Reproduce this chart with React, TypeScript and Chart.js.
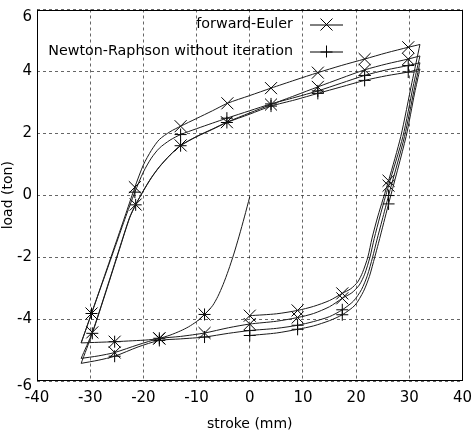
import React, { useEffect, useRef } from 'react';
import { Chart, registerables } from 'chart.js';

Chart.register(...registerables);

// ---------- text ----------
const X_TITLE = 'stroke (mm)';
const Y_TITLE = 'load (ton)';
const LEGEND_LABELS = ['forward-Euler', 'Newton-Raphson without iteration'];

// ---------- axes ----------
const X_MIN = -40;
const X_MAX = 40;
const X_STEP = 10;
const Y_MIN = -6;
const Y_MAX = 6;
const Y_STEP = 2;

// ---------- curves: [stroke, load] ----------
const INITIAL = [
  [0, -0.05], [-1, -0.7], [-2, -1.32], [-3, -1.9], [-4, -2.42], [-5, -2.88], [-6, -3.27],
  [-7, -3.57], [-8.5, -3.85], [-10, -4.08], [-11.5, -4.25], [-13, -4.38], [-15, -4.52],
  [-17, -4.62], [-19, -4.67], [-22, -4.7], [-25.4, -4.73], [-28.5, -4.75], [-31.7, -4.77],
];

const UP_1 = [
  [-31.7, -4.77], [-29.75, -3.82], [-27.5, -2.7], [-25.5, -1.7], [-23.5, -0.7], [-21.6, 0.26],
  [-20, 0.98], [-18.5, 1.45], [-17, 1.8], [-15, 2.05], [-13, 2.23], [-10, 2.48], [-7, 2.73],
  [-4.2, 2.97], [0, 3.22], [4, 3.46], [8.5, 3.72], [12.8, 3.96], [17.2, 4.19], [21.6, 4.4],
  [25.7, 4.6], [29.8, 4.78], [32, 4.87],
];

const UP_2 = [
  [-31.7, -4.77], [-29.75, -3.82], [-27.5, -2.73], [-25.5, -1.76], [-23.5, -0.78], [-21.6, 0.1],
  [-20, 0.75], [-18.5, 1.2], [-17, 1.52], [-15, 1.78], [-13, 1.96], [-10, 2.15], [-7, 2.33],
  [-4.3, 2.49], [0, 2.73], [4, 2.95], [8.5, 3.16], [12.8, 3.37], [17.2, 3.62], [21.6, 3.87],
  [25.7, 4.05], [29.8, 4.19], [32, 4.28],
];

const UP_3 = [
  [-31.7, -5.27], [-29.6, -4.43], [-27, -3.07], [-24.5, -1.72], [-22.6, -0.72], [-21.45, -0.3],
  [-20, 0.15], [-18.5, 0.57], [-17, 0.92], [-15, 1.3], [-13, 1.61], [-10, 1.9], [-7, 2.14],
  [-4.3, 2.36], [0, 2.66], [4, 2.93], [8.5, 3.22], [12.8, 3.5], [17.2, 3.78], [21.6, 4.05],
  [25.7, 4.24], [29.8, 4.4], [32, 4.5],
];

const UP_4 = [
  [-31.7, -5.43], [-29.6, -4.46], [-27, -3.1], [-24.5, -1.75], [-22.6, -0.74], [-21.45, -0.31],
  [-20, 0.14], [-18.5, 0.56], [-17, 0.91], [-15, 1.29], [-13, 1.6], [-10, 1.89], [-7, 2.13],
  [-4.3, 2.35], [0, 2.62], [4, 2.88], [8.5, 3.08], [12.8, 3.29], [17.2, 3.5], [21.6, 3.71],
  [25.7, 3.86], [29.8, 3.98], [32, 4.08],
];

const DOWN_1 = [
  [32, 4.87], [30.5, 3.65], [28.4, 1.9], [26.1, 0.47], [24.1, -0.67], [23, -1.38], [22.2, -2.0],
  [21.2, -2.5], [20.3, -2.8], [19, -3.02], [17.4, -3.17], [15, -3.4], [12, -3.59], [9, -3.72],
  [5, -3.83], [0, -3.89],
];

const DOWN_2 = [
  [32, 4.5], [30.7, 3.5], [28.8, 1.9], [26.1, 0.31], [24.5, -0.67], [23.4, -1.4], [22.6, -2.0],
  [21.6, -2.55], [20.6, -2.9], [19.2, -3.15], [17.4, -3.33], [15, -3.6], [12, -3.82], [9, -3.95],
  [5, -4.07], [0, -4.16], [-4, -4.28], [-8.5, -4.45], [-13, -4.56], [-17, -4.63], [-21, -4.83],
  [-25.4, -5.08], [-28.5, -5.19], [-31.7, -5.27],
];

const DOWN_3 = [
  [32, 4.28], [30.9, 3.4], [29.1, 1.9], [26.1, -0.01], [24.9, -0.8], [23.9, -1.45], [23.1, -2.0],
  [22.1, -2.6], [21, -3.05], [19.5, -3.42], [17.4, -3.7], [15, -3.92], [12, -4.08], [9, -4.2],
  [5, -4.3], [0, -4.37], [-4, -4.46], [-8.5, -4.58], [-13, -4.64], [-17, -4.69], [-21, -4.9],
  [-25.4, -5.2], [-28.5, -5.33], [-31.7, -5.43],
];

const DOWN_4 = [
  [32, 4.08], [31, 3.3], [29.4, 1.9], [26.1, -0.28], [25.2, -0.88], [24.2, -1.55], [23.5, -2.0],
  [22.5, -2.62], [21.4, -3.1], [19.8, -3.55], [17.4, -3.86], [15, -4.05], [12, -4.22], [9, -4.33],
  [5, -4.45], [0, -4.53],
];

const BRANCHES = [INITIAL, UP_1, UP_2, UP_3, UP_4, DOWN_1, DOWN_2, DOWN_3, DOWN_4];

// ---------- markers ----------
const EULER_MARKS = [
  [-8.5, -3.85], [-17, -4.62], [-25.4, -4.73],
  [-29.75, -3.82], [-21.6, 0.26], [-13, 2.23], [-4.2, 2.97], [4, 3.46], [12.8, 3.96], [21.6, 4.4], [29.8, 4.78],
  [26.1, 0.47], [17.4, -3.17], [9, -3.72], [0, -3.89],
  [-29.6, -4.43], [-21.45, -0.3], [-13, 1.61], [-4.3, 2.36], [4, 2.93], [12.8, 3.5], [21.6, 4.05], [29.8, 4.4],
  [26.1, 0.31], [17.4, -3.33], [9, -3.95], [0, -4.16], [-8.5, -4.45], [-17, -4.63], [-25.4, -5.08],
];

const NEWTON_MARKS = [
  [-8.5, -3.85], [-17, -4.62], [-25.4, -4.73],
  [-29.75, -3.82], [-21.6, 0.1], [-13, 1.96], [-4.3, 2.49], [4, 2.95], [12.8, 3.37], [21.6, 3.87], [29.8, 4.19],
  [-29.6, -4.46], [-21.45, -0.31], [-13, 1.6], [-4.3, 2.35], [4, 2.88], [12.8, 3.29], [21.6, 3.71], [29.8, 3.98],
  [26.1, -0.01], [17.4, -3.7], [9, -4.2], [0, -4.37], [-8.5, -4.58], [-17, -4.69], [-25.4, -5.2],
  [26.1, -0.28], [17.4, -3.86], [9, -4.33], [0, -4.53],
];

const FONT = 'DejaVu Sans';
const INK = '#000';
const LINE_INK = '#1a1a1a';
const X_RADIUS = 8.5;
const PLUS_RADIUS = 6;

const framePlugin = {
  id: 'frame',
  beforeDraw(chart: any) {
    // the extreme y labels sit a little inside the frame in the reference
    const ys = chart.scales.y;
    if (!ys || !ys.getLabelItems) return;
    const items = ys.getLabelItems(chart.chartArea);
    items.forEach((it: any) => {
      if (it._shifted) return;
      if (it.label === String(Y_MAX)) it.options.translation[1] += 8;
      if (it.label === String(Y_MIN)) it.options.translation[1] += 5;
      it._shifted = true;
    });
  },
  afterDatasetsDraw(chart: any) {
    const { ctx, chartArea } = chart;
    ctx.save();
    ctx.strokeStyle = INK;
    ctx.lineWidth = 1;
    ctx.setLineDash([]);
    const l = Math.round(chartArea.left) + 0.5;
    const t = Math.round(chartArea.top) + 0.5;
    const r = Math.round(chartArea.right) - 0.5;
    const b = Math.round(chartArea.bottom) - 0.5;
    ctx.strokeRect(l, t, r - l, b - t);
    ctx.restore();
  },
};

const keyPlugin = {
  id: 'gnuKey',
  afterDatasetsDraw(chart: any) {
    const { ctx } = chart;
    const rows = [24.5, 51.5];
    ctx.save();
    ctx.font = `14.3px "${FONT}"`;
    ctx.fillStyle = INK;
    ctx.strokeStyle = INK;
    ctx.lineWidth = 1;
    ctx.textAlign = 'right';
    ctx.textBaseline = 'middle';
    LEGEND_LABELS.forEach((label, i) => {
      const y = rows[i];
      ctx.fillText(label, 293, y);
      ctx.beginPath();
      ctx.moveTo(310, y + 0.5);
      ctx.lineTo(343, y + 0.5);
      const cx = 326.5;
      if (i === 0) {
        const d = X_RADIUS * Math.SQRT1_2;
        ctx.moveTo(cx - d, y - d);
        ctx.lineTo(cx + d, y + d);
        ctx.moveTo(cx - d, y + d);
        ctx.lineTo(cx + d, y - d);
      } else {
        ctx.moveTo(cx - PLUS_RADIUS, y + 0.5);
        ctx.lineTo(cx + PLUS_RADIUS, y + 0.5);
        ctx.moveTo(cx, y - PLUS_RADIUS);
        ctx.lineTo(cx, y + PLUS_RADIUS);
      }
      ctx.stroke();
    });
    ctx.restore();
  },
};

const toPts = (arr: number[][]) => arr.map(([x, y]) => ({ x, y }));

export default function App() {
  const ref = useRef<HTMLCanvasElement>(null);

  useEffect(() => {
    const canvas = ref.current;
    if (!canvas) return;
    Chart.defaults.font.family = FONT;

    const lineSets = BRANCHES.map((b, i) => ({
      label: 'branch ' + i,
      data: toPts(b),
      showLine: true,
      borderColor: LINE_INK,
      borderWidth: 1,
      pointRadius: 0,
      tension: 0.25,
      fill: false,
    }));

    const markSets = [
      {
        label: LEGEND_LABELS[0],
        data: toPts(EULER_MARKS),
        showLine: false,
        pointStyle: 'crossRot',
        pointRadius: X_RADIUS,
        borderColor: INK,
        backgroundColor: INK,
        pointBorderWidth: 1,
      },
      {
        label: LEGEND_LABELS[1],
        data: toPts(NEWTON_MARKS),
        showLine: false,
        pointStyle: 'cross',
        pointRadius: PLUS_RADIUS,
        borderColor: INK,
        backgroundColor: INK,
        pointBorderWidth: 1,
      },
    ];

    const chart = new Chart(canvas, {
      type: 'scatter',
      data: { datasets: [...lineSets, ...markSets] as any },
      options: {
        animation: false,
        responsive: false,
        maintainAspectRatio: false,
        events: [],
        layout: { padding: { left: 0, right: 8, top: 5, bottom: 0 } },
        plugins: { legend: { display: false }, tooltip: { enabled: false } },
        scales: {
          x: {
            type: 'linear',
            min: X_MIN,
            max: X_MAX,
            ticks: {
              stepSize: X_STEP,
              color: INK,
              font: { family: FONT, size: 15 },
              padding: 8,
              maxRotation: 0,
              autoSkip: false,
            },
            grid: { color: 'rgba(0,0,0,0.6)', lineWidth: 1, drawTicks: false },
            border: { display: false, dash: [3, 3] },
            title: {
              display: true,
              text: X_TITLE,
              color: INK,
              font: { family: FONT, size: 14 },
              padding: { top: 0, bottom: 1 },
            },
            afterFit: (s: any) => {
              s.height = 53;
              s.paddingLeft = 0;
              s.paddingRight = 0;
            },
          },
          y: {
            type: 'linear',
            min: Y_MIN,
            max: Y_MAX,
            ticks: {
              stepSize: Y_STEP,
              color: INK,
              font: { family: FONT, size: 15 },
              padding: 5,
              autoSkip: false,
            },
            grid: { color: 'rgba(0,0,0,0.6)', lineWidth: 1, drawTicks: false },
            border: { display: false, dash: [3, 3] },
            title: {
              display: true,
              text: Y_TITLE,
              color: INK,
              font: { family: FONT, size: 14 },
              padding: { top: 0, bottom: 0 },
            },
            afterFit: (s: any) => {
              s.width = 37;
              s.paddingTop = 0;
              s.paddingBottom = 0;
            },
          },
        },
      },
      plugins: [framePlugin, keyPlugin],
    });

    return () => chart.destroy();
  }, []);

  return (
    <div style={{ position: 'absolute', left: 0, top: 0, width: 472, height: 434, background: '#fff' }}>
      <canvas ref={ref} width={472} height={434} style={{ display: 'block' }} />
    </div>
  );
}
